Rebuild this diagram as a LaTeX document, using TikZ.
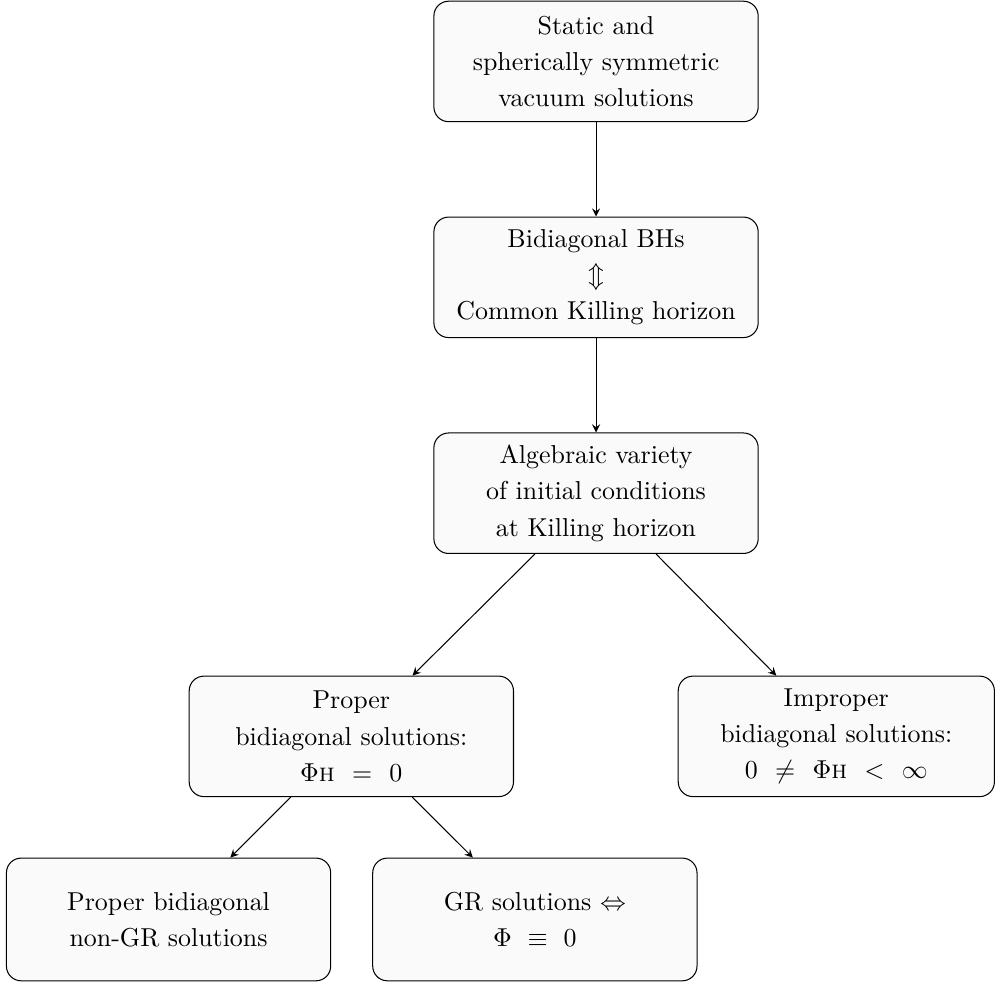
\documentclass[tikz,border=0pt]{standalone}
\usepackage{amsmath,amssymb}
\usepackage{tikz}
\usetikzlibrary{positioning, arrows, arrows.meta}

\tikzset{
    stepbox/.style={draw, rectangle, rounded corners=0.2cm, fill=gray!4, align=center,
        minimum width=4.4cm, minimum height=1.635cm, inner sep=2pt,
        font=\fontsize{10pt}{14pt}\selectfont}
}

\begin{document}
\begin{tikzpicture}[node distance=1.3cm, >=stealth]
    \useasboundingbox (0,0) rectangle (13.5,-13.338);

    \node [stepbox] (static) at (8.087,-0.834) {Static and\\ spherically symmetric\\ vacuum solutions};

    \node [stepbox, below=1.28cm of static] (bidiag) {Bidiagonal BHs\\ $\Updownarrow$\\ Common Killing horizon};

    \node [stepbox, below=1.28cm of bidiag] (variety) {Algebraic variety\\ of initial conditions\\ at Killing horizon};

    \node [stepbox, below=1.65cm of variety, xshift=-3.32cm] (proper) {Proper\\ bidiagonal solutions:\\ $\Phi$\textsc{h} \ $=$ \ $0$};

    \node [stepbox, minimum width=4.29cm, below=1.65cm of variety, xshift=3.26cm] (improper) {Improper\\ bidiagonal solutions:\\ $0$ \ $\neq$ \ $\Phi$\textsc{h} \ $<$ \ $\infty$};

    \node [stepbox, minimum height=1.665cm, below=0.82cm of proper, xshift=-2.48cm] (nongr) {Proper bidiagonal\\ non-GR solutions};

    \node [stepbox, minimum height=1.665cm, below=0.82cm of proper, xshift=2.49cm] (gr) {GR solutions $\Leftrightarrow$\\ $\Phi\ \equiv\ 0$};

    \draw [->] (static) -- (bidiag);
    \draw [->] (bidiag) -- (variety);
    \draw [->] (variety) -- (proper);
    \draw [->] (variety) -- (improper);
    \draw [->] (proper) -- (nongr);
    \draw [->] (proper) -- (gr);
\end{tikzpicture}
\end{document}
